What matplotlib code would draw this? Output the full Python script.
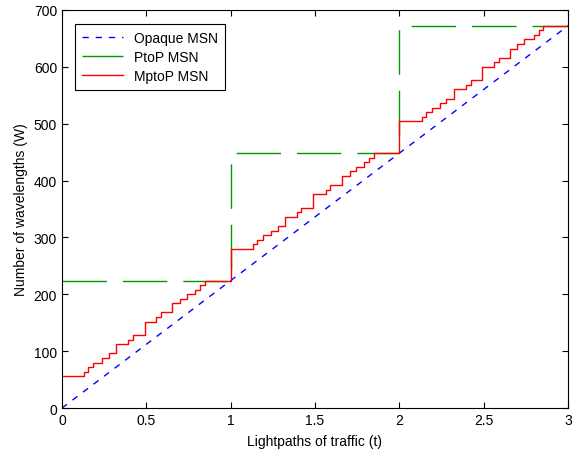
import numpy as np
import matplotlib.pyplot as plt

plt.rcParams['font.family'] = ['Liberation Sans', 'DejaVu Sans']

# Opaque MSN (straight line)
opaque_t = [0, 3]
opaque_w = [0, 672]

# PtoP MSN (staircase, one step per lightpath)
ptop_t = [0, 1, 1, 2, 2, 3]
ptop_w = [224, 224, 448, 448, 672, 672]

# MptoP MSN staircase: step positions and the level reached after each step
mptop_t = [0, 0.13, 0.155, 0.185, 0.24, 0.28, 0.32, 0.39, 0.42, 0.49, 0.56, 0.59,
           0.655, 0.70, 0.74, 0.79, 0.82, 0.85,
           1.0, 1.135, 1.155, 1.19, 1.238, 1.278, 1.323, 1.393, 1.418, 1.49, 1.563, 1.59,
           1.66, 1.705, 1.745, 1.79, 1.82, 1.85,
           2.0, 2.135, 2.16, 2.194, 2.24, 2.274, 2.326, 2.396, 2.423, 2.49, 2.56, 2.593,
           2.655, 2.70, 2.74, 2.797, 2.826, 2.853, 3.0]
mptop_w = [56, 64, 72, 80, 88, 96, 112, 120, 128, 152, 160, 168,
           184, 192, 200, 208, 216, 224,
           280, 288, 296, 304, 312, 320, 336, 344, 352, 376, 384, 392,
           408, 416, 424, 432, 440, 448,
           504, 512, 520, 528, 536, 544, 560, 568, 576, 600, 608, 616,
           632, 640, 648, 656, 664, 672, 672]

fig = plt.figure(figsize=(5.79, 4.52), dpi=100)
ax = fig.add_axes([0.107, 0.095, 0.874, 0.881])

ax.plot(opaque_t, opaque_w, color='#0000ff', lw=1, dashes=(4.5, 5), label='Opaque MSN')
ax.plot(ptop_t, ptop_w, color='#009900', lw=1, dashes=(32, 11.5), label='PtoP MSN')
ax.step(mptop_t, mptop_w, where='post', color='#ff0000', lw=1, label='MptoP MSN')

ax.set_xlim(0, 3)
ax.set_ylim(0, 700)
ax.set_xticks(np.arange(0, 3.01, 0.5))
ax.set_xticklabels(['0', '0.5', '1', '1.5', '2', '2.5', '3'])
ax.set_yticks(np.arange(0, 701, 100))
ax.tick_params(direction='in', top=True, right=True, labelsize=10, length=4)
ax.set_xlabel('Lightpaths of traffic (t)', fontsize=10, labelpad=5)
ax.set_ylabel('Number of wavelengths (W)', fontsize=10, labelpad=4)

leg = ax.legend(loc='upper left', fontsize=10, fancybox=False, framealpha=1,
                edgecolor='black', bbox_to_anchor=(0.025, 0.965), borderaxespad=0,
                handlelength=3, labelspacing=0.38, borderpad=0.5)
leg.get_frame().set_linewidth(0.8)

fig.savefig('out.png', dpi=100)
